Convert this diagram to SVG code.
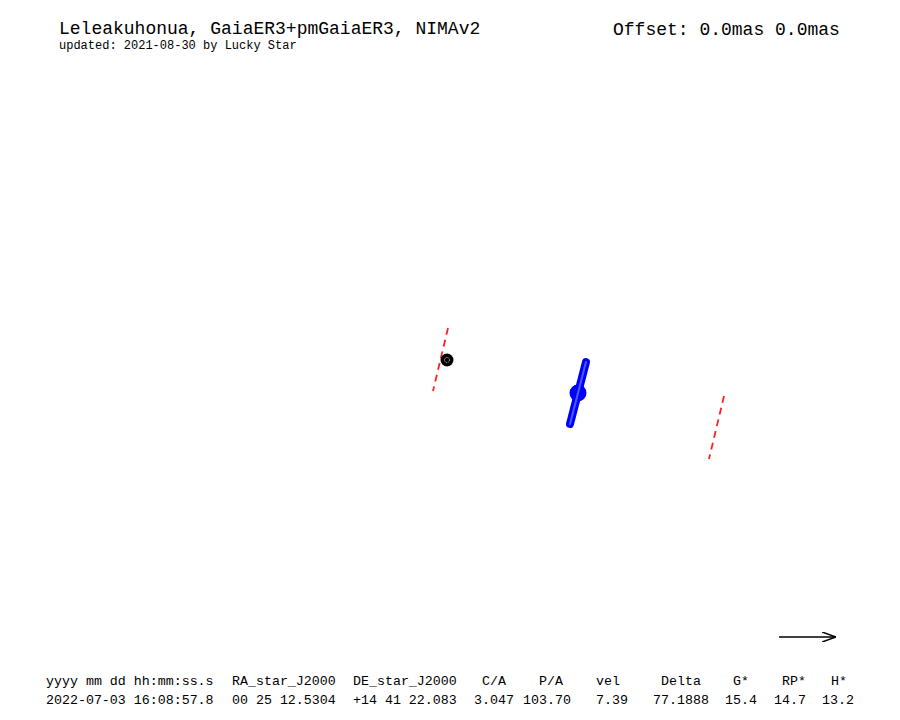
<svg xmlns="http://www.w3.org/2000/svg" width="900" height="720" viewBox="0 0 900 720">
<defs>
<style>
text{font-family:"Liberation Mono","DejaVu Sans Mono",monospace;fill:#000}
.t{font-size:18px}
.s{font-size:12px}
.b{font-size:13.3px}
.path{stroke:#ff2020;stroke-width:1.8;stroke-dasharray:7,5;fill:none}
</style>
<marker id="ah" viewBox="0 0 14 10" refX="14" refY="5" markerWidth="14" markerHeight="10" markerUnits="userSpaceOnUse" orient="auto"><path d="M0,0 L14,5 L0,10" fill="none" stroke="#000" stroke-width="1.5"/></marker>
</defs>
<rect width="900" height="720" fill="#fff"/>
<g id="header">
<text class="t" x="59" y="34">Leleakuhonua, GaiaER3+pmGaiaER3, NIMAv2</text>
<text class="s" x="59" y="48.5">updated: 2021-08-30 by Lucky Star</text>
<text class="t" x="613" y="35">Offset: 0.0mas 0.0mas</text>
</g>
<g id="connectors">
<line class="path" x1="448" y1="328" x2="433" y2="391"/>
<line class="path" x1="724" y1="396" x2="709" y2="459"/>
<line x1="779" y1="637" x2="836" y2="637" stroke="#000" stroke-width="1.5" marker-end="url(#ah)"/>
</g>
<g id="star">
<circle cx="447" cy="360" r="6.5" fill="#000"/>
<circle cx="447" cy="360" r="2.5" fill="none" stroke="#fff" stroke-width="0.8" stroke-dasharray="1,1"/>
</g>
<g id="body">
<line x1="586" y1="362" x2="570" y2="424" stroke="#0000ff" stroke-width="8" stroke-linecap="round"/>
<circle cx="578" cy="393" r="8.5" fill="#0000ff"/>
<line x1="586" y1="362" x2="570" y2="424" stroke="#4a5cff" stroke-width="2" stroke-linecap="round"/>
</g>
<g id="table">
<text class="b" x="46" y="685">yyyy mm dd hh:mm:ss.s</text>
<text class="b" x="232" y="685">RA_star_J2000</text>
<text class="b" x="353" y="685">DE_star_J2000</text>
<text class="b" x="482" y="685">C/A</text>
<text class="b" x="539" y="685">P/A</text>
<text class="b" x="596" y="685">vel</text>
<text class="b" x="661" y="685">Delta</text>
<text class="b" x="733" y="685">G*</text>
<text class="b" x="782" y="685">RP*</text>
<text class="b" x="831" y="685">H*</text>
<text class="b" x="46" y="704">2022-07-03 16:08:57.8</text>
<text class="b" x="232" y="704">00 25 12.5304</text>
<text class="b" x="353" y="704">+14 41 22.083</text>
<text class="b" x="474" y="704">3.047</text>
<text class="b" x="523" y="704">103.70</text>
<text class="b" x="596" y="704">7.39</text>
<text class="b" x="653" y="704">77.1888</text>
<text class="b" x="725" y="704">15.4</text>
<text class="b" x="774" y="704">14.7</text>
<text class="b" x="822" y="704">13.2</text>
</g>
</svg>
